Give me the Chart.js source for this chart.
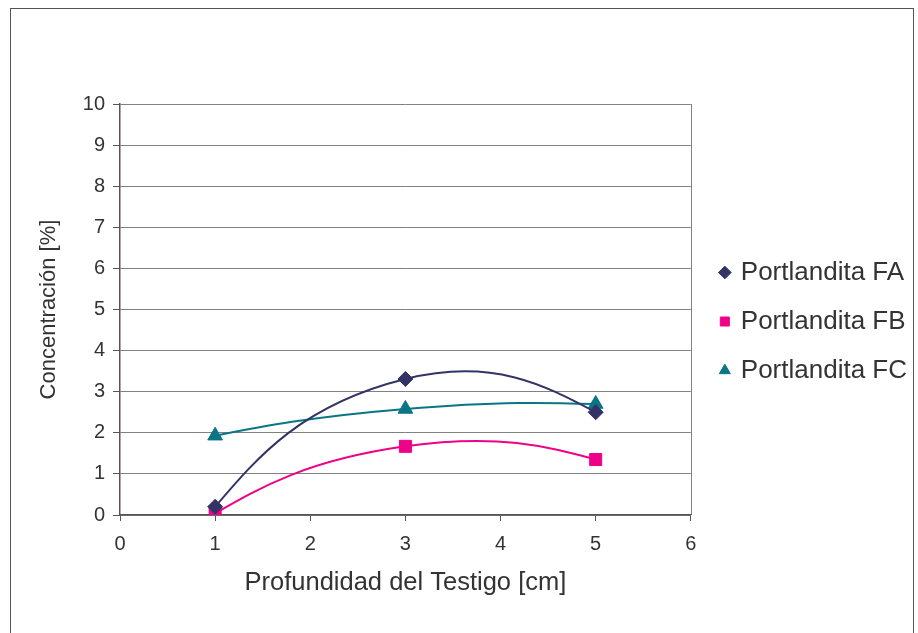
<!DOCTYPE html>
<html>
<head>
<meta charset="utf-8">
<script src="https://cdn.jsdelivr.net/npm/chart.js@4.4.1/dist/chart.umd.min.js"></script>
<style>
  html, body { margin: 0; padding: 0; background: #fff; }
  #wrap { width: 918px; height: 633px; }
</style>
</head>
<body>
<div id="wrap"><canvas id="chart"></canvas></div>
<script>
// profundidad del testigo (cm)
const depths = [1, 3, 5];
// concentración (%) por serie
const portlanditaFA = [0.2, 3.31, 2.5];
const portlanditaFB = [0.04, 1.67, 1.35];
const portlanditaFC = [1.93, 2.58, 2.7];
const seriesNames = ["Portlandita FA", "Portlandita FB", "Portlandita FC"];
const xTicks = [0, 1, 2, 3, 4, 5, 6];
const yTicks = [0, 1, 2, 3, 4, 5, 6, 7, 8, 9, 10];

const FONT = "'Liberation Sans', Arial, sans-serif";
const toPoints = (vals) => vals.map((v, i) => ({ x: depths[i], y: v }));

// marco exterior, borde derecho del área, leyenda y suavizado tipo Excel en los extremos
const framePlugin = {
  id: "frame",
  afterLayout(chart) {
    const lg = chart.legend;
    lg.top -= 47; lg.bottom -= 47;
    lg.left += 8; lg.right += 8;
  },
  beforeDraw(chart) {
    const ctx = chart.ctx;
    ctx.save();
    ctx.fillStyle = "#fff";
    ctx.fillRect(0, 0, chart.width, chart.height);
    ctx.strokeStyle = "#555";
    ctx.lineWidth = 1;
    ctx.strokeRect(10.5, 8.5, 903, 700);
    ctx.restore();
  },
  beforeDatasetsDraw(chart) {
    const { ctx, chartArea } = chart;
    ctx.save();
    ctx.strokeStyle = "#808080";
    ctx.lineWidth = 1;
    ctx.beginPath();
    ctx.moveTo(Math.round(chartArea.right) + 0.5, chartArea.top);
    ctx.lineTo(Math.round(chartArea.right) + 0.5, chartArea.bottom);
    ctx.stroke();
    ctx.restore();

    chart.getSortedVisibleDatasetMetas().forEach((meta) => {
      const pts = meta.data;
      const n = pts.length;
      if (n < 3) return;
      meta.dataset.updateControlPoints(chartArea);
      const p0 = pts[0], p1 = pts[1];
      p0.cp2x = p0.x + (p1.cp1x - p0.x) / 2;
      p0.cp2y = p0.y + (p1.cp1y - p0.y) / 2;
      const pl = pts[n - 1], pk = pts[n - 2];
      pl.cp1x = pl.x + (pk.cp2x - pl.x) / 2;
      pl.cp1y = pl.y + (pk.cp2y - pl.y) / 2;
    });
  },
};

const chart = new Chart(document.getElementById("chart").getContext("2d"), {
  type: "scatter",
  data: {
    datasets: [
      {
        label: seriesNames[0],
        data: toPoints(portlanditaFA),
        borderColor: "#333366",
        backgroundColor: "#333366",
        pointStyle: "rectRot",
        pointRadius: 7.5,
      },
      {
        label: seriesNames[1],
        data: toPoints(portlanditaFB),
        borderColor: "#ee0088",
        backgroundColor: "#ee0088",
        pointStyle: "rect",
        pointRadius: 8.5,
      },
      {
        label: seriesNames[2],
        data: toPoints(portlanditaFC),
        borderColor: "#0a7585",
        backgroundColor: "#0a7585",
        pointStyle: "triangle",
        pointRadius: 8.5,
      },
    ].map((d) => ({ ...d, showLine: true, tension: 0.5, borderWidth: 2, pointBorderWidth: 1 })),
  },
  options: {
    responsive: true,
    maintainAspectRatio: false,
    animation: false,
    layout: { padding: { left: 0, top: 104, right: 9, bottom: 0 } },
    plugins: {
      tooltip: { enabled: false },
      legend: {
        position: "right",
        labels: {
          usePointStyle: true,
          boxWidth: 6,
          boxHeight: 9,
          padding: 23,
          color: "#333",
          font: { family: FONT, size: 26 },
        },
      },
    },
    scales: {
      x: {
        type: "linear",
        min: 0,
        max: 6,
        afterFit(scale) { scale.height = 118; },
        afterBuildTicks(scale) { scale.ticks = xTicks.map((v) => ({ value: v })); },
        ticks: { color: "#333", padding: 11, font: { family: FONT, size: 20 } },
        grid: { drawOnChartArea: false, drawTicks: true, tickLength: 6, tickColor: "#555" },
        border: { color: "#5a5050", width: 1.5 },
        title: {
          display: true,
          text: "Profundidad del Testigo [cm]",
          color: "#333",
          font: { family: FONT, size: 25.5 },
          padding: { top: 0, bottom: 35 },
        },
      },
      y: {
        min: 0,
        max: 10,
        afterFit(scale) { scale.width = 120; },
        afterBuildTicks(scale) { scale.ticks = yTicks.map((v) => ({ value: v })); },
        ticks: { color: "#333", padding: 8, font: { family: FONT, size: 20 } },
        grid: { color: "#808080", lineWidth: 1, tickLength: 7, tickColor: "#555" },
        border: { color: "#5a5050", width: 1.5 },
        title: {
          display: true,
          text: "Concentración [%]",
          color: "#333",
          font: { family: FONT, size: 22 },
          padding: { top: 36, bottom: 0 },
        },
      },
    },
  },
  plugins: [framePlugin],
});
</script>
</body>
</html>
